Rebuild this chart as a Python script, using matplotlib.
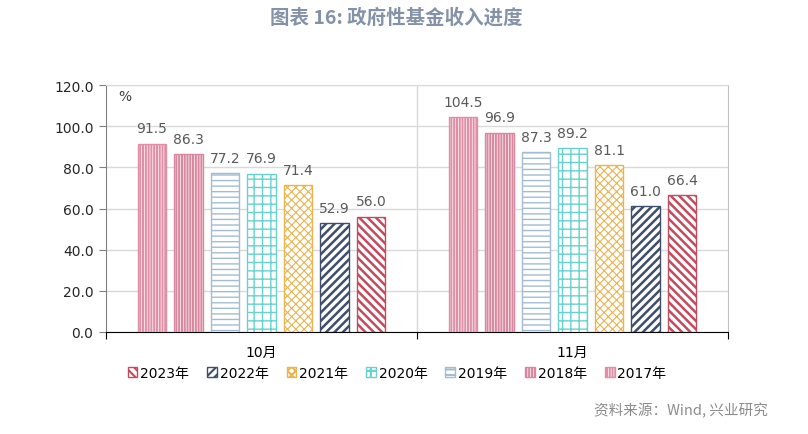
import numpy as np
import matplotlib
matplotlib.use('Agg')
import matplotlib.pyplot as plt

plt.rcParams['font.family'] = ['DejaVu Sans', 'Noto Sans CJK SC']
plt.rcParams['hatch.linewidth'] = 1.5

months = ['10月', '11月']
years = ['2017年', '2018年', '2019年', '2020年', '2021年', '2022年', '2023年']
v2017 = [91.5, 104.5]
v2018 = [86.3, 96.9]
v2019 = [77.2, 87.3]
v2020 = [76.9, 89.2]
v2021 = [71.4, 81.1]
v2022 = [52.9, 61.0]
v2023 = [56.0, 66.4]
series = [v2017, v2018, v2019, v2020, v2021, v2022, v2023]

colors = ['#e08fa5', '#d9879e', '#a3bcd3', '#66d2cc', '#e9b451', '#3f4f6b', '#c24b5e']
hatches = ['||||||', '||||||', '---', '++', 'xxxx', '////', '\\\\\\\\']
hlw = [1.5, 1.5, 1.0, 1.0, 0.8, 1.8, 1.8]

fig = plt.figure(figsize=(8.08, 4.35), dpi=100)
ax = fig.add_axes([106/808, 1-333/435, (728-106)/808, (333-86)/435])

x = np.arange(len(months))
pitch = 0.1174
width = 0.093
handles = []
for i, (vals, c, h) in enumerate(zip(series, colors, hatches)):
    off = (i - 3) * pitch
    bars = ax.bar(x + off, vals, width, facecolor='white', edgecolor=c,
                  hatch=h, linewidth=1.0, label=years[i], zorder=3)
    for b in bars:
        if hasattr(b, 'set_hatch_linewidth'):
            b.set_hatch_linewidth(hlw[i])
    handles.append(bars)
    for xi, v in zip(x + off, vals):
        ax.text(xi, v + 4, f'{v:.1f}', ha='center', va='bottom',
                fontsize=10, color='#595959', zorder=4)

ax.set_xlim(-0.5, 1.5)
ax.set_ylim(0, 120)
ax.set_yticks(np.arange(0, 121, 20))
ax.set_yticklabels([f'{t:.1f}' for t in np.arange(0, 121, 20)], fontsize=10, color='#262626')
ax.yaxis.grid(True, color='#d9d9d9', lw=1, zorder=0)
ax.axvline(0.5, color='#d9d9d9', lw=1, zorder=0)

ax.set_xticks([-0.5, 0.5, 1.5])
ax.set_xticklabels([])
ax.set_xticks(x, minor=True)
ax.set_xticklabels(months, minor=True, fontsize=10)
ax.tick_params(axis='x', which='minor', length=0, pad=9)
ax.tick_params(axis='x', which='major', length=5, direction='out', color='black')
ax.tick_params(axis='y', length=5, direction='out', color='#808080', pad=4)

ax.spines['top'].set_color('#d9d9d9')
ax.spines['right'].set_color('#bfbfbf')
ax.spines['left'].set_color('#808080')
ax.spines['bottom'].set_color('black')

ax.text(0.02, 0.955, '%', transform=ax.transAxes, fontsize=10, color='#404040', va='center')

fig.legend(handles[::-1], years[::-1], loc='center', bbox_to_anchor=(397/808, 1-374/435),
           ncol=7, frameon=False, fontsize=10, handlelength=0.7, handleheight=0.7,
           handletextpad=0.2, columnspacing=1.3)

fig.text(396/808, 1-18/435, '图表 16: 政府性基金收入进度', ha='center', va='center',
         fontsize=14, fontweight='bold', color='#8392a8',
         family=['Noto Sans CJK SC', 'DejaVu Sans'])
fig.text(768/808, 1-411/435, '资料来源：Wind, 兴业研究', ha='right', va='center',
         fontsize=10.5, color='#8c8c8c', family=['Noto Sans CJK SC', 'DejaVu Sans'])

fig.savefig('out.png', dpi=100)
